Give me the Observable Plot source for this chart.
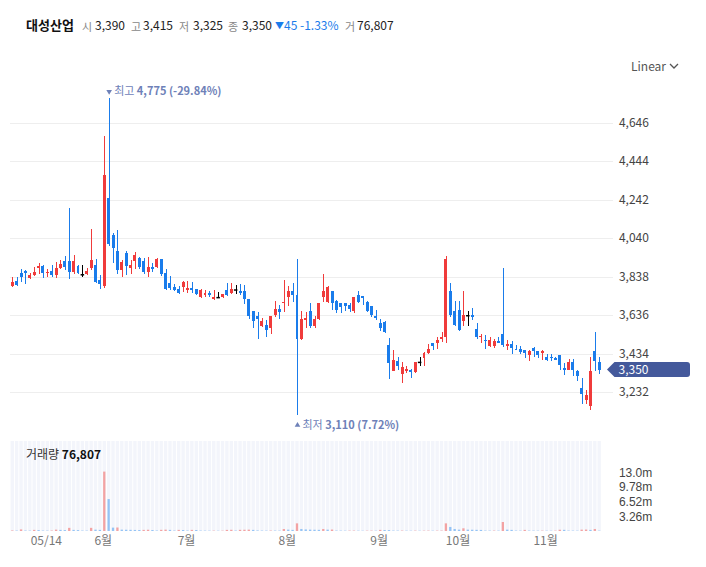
<!DOCTYPE html>
<html><head><meta charset="utf-8">
<script src="https://cdn.jsdelivr.net/npm/d3@7"></script>
<script src="https://cdn.jsdelivr.net/npm/@observablehq/plot@0.6"></script>
<style>
body{margin:0;background:#fff;font-family:"Noto Sans CJK KR","Noto Sans",sans-serif;}
#wrap{position:relative;width:706px;height:567px;overflow:hidden;background:#fff;}
.abs{position:absolute;white-space:nowrap;line-height:18px;}
svg{position:absolute;left:0;}
</style></head><body><div id="wrap"></div>
<script>
// ---- data (trading days, index 0..134) ----
const openP = [
3790,3815,3855,3865,3830,3845,3885,3895,3855,3865,
3845,3885,3920,3920,3860,3895,3850,3850,3885,3900,
3820,3790,4250,4055,3970,3870,3960,3885,3920,3935,
3920,3860,3890,3890,3930,3855,3805,3785,3775,3785,
3770,3780,3775,3730,3740,3750,3720,3730,3730,3765,
3750,3770,3760,3760,3720,3655,3630,3580,3585,3570,
3635,3670,3700,3730,3760,3740,3510,3610,3655,3580,
3615,3730,3705,3760,3710,3700,3700,3690,3655,3740,
3735,3705,3685,3630,3595,3600,3480,3340,3395,3325,
3340,3345,3335,3390,3410,3435,3490,3490,3510,3520,
3760,3655,3660,3605,3635,3635,3565,3520,3505,3475,
3475,3500,3535,3475,3485,3460,3460,3455,3425,3465,
3445,3435,3415,3415,3410,3425,3360,3350,3390,3340,
3255,3190,3160,3445,3390];
const highP = [
3835,3835,3880,3870,3855,3890,3910,3900,3880,3900,
3915,3925,3945,4200,3950,3900,3900,3885,4090,3930,
3845,4575,4775,4065,4080,3925,3970,3925,3965,3940,
3935,3940,3910,3935,3930,3880,3840,3800,3790,3815,
3815,3810,3775,3775,3765,3760,3765,3755,3745,3805,
3805,3795,3800,3795,3720,3655,3650,3620,3610,3630,
3710,3690,3820,3790,3805,3930,3655,3650,3700,3630,
3700,3850,3790,3760,3715,3700,3700,3700,3730,3760,
3735,3710,3685,3665,3615,3605,3515,3450,3415,3390,
3370,3355,3390,3415,3440,3485,3490,3520,3545,3945,
3805,3710,3710,3760,3655,3675,3595,3535,3530,3520,
3510,3520,3885,3505,3500,3480,3475,3455,3455,3470,
3445,3450,3430,3430,3415,3425,3385,3405,3405,3345,
3305,3245,3415,3545,3415];
const lowP = [
3785,3790,3810,3800,3825,3840,3850,3830,3835,3835,
3830,3880,3875,3825,3850,3850,3835,3845,3870,3805,
3775,3780,4000,3910,3850,3835,3845,3850,3880,3880,
3850,3835,3860,3885,3840,3765,3765,3760,3745,3755,
3750,3750,3740,3725,3730,3730,3715,3725,3725,3735,
3745,3745,3740,3695,3615,3570,3510,3575,3520,3535,
3625,3615,3650,3685,3705,3110,3505,3570,3570,3570,
3610,3705,3700,3665,3645,3645,3655,3650,3645,3700,
3690,3650,3625,3610,3550,3540,3300,3340,3345,3280,
3330,3305,3330,3370,3370,3430,3450,3460,3495,3490,
3625,3580,3550,3580,3580,3610,3510,3490,3460,3470,
3465,3490,3470,3455,3430,3450,3430,3410,3395,3415,
3410,3400,3395,3395,3400,3345,3320,3350,3315,3290,
3170,3170,3135,3340,3325];
const closeP = [
3810,3795,3835,3855,3845,3860,3895,3855,3860,3845,
3885,3905,3890,3860,3920,3855,3850,3865,3925,3810,
3800,4370,4010,3990,3870,3915,3895,3900,3950,3890,
3860,3890,3880,3930,3850,3775,3780,3770,3750,3810,
3780,3770,3745,3770,3750,3740,3730,3730,3745,3740,
3775,3770,3750,3720,3630,3605,3615,3605,3555,3630,
3670,3650,3705,3760,3740,3510,3615,3620,3580,3615,
3700,3760,3785,3700,3665,3680,3685,3670,3730,3705,
3725,3655,3635,3620,3570,3545,3385,3400,3370,3365,
3355,3335,3390,3390,3435,3460,3475,3505,3520,3930,
3635,3585,3555,3635,3635,3625,3520,3525,3500,3505,
3500,3490,3480,3485,3465,3455,3440,3435,3445,3445,
3425,3445,3400,3410,3400,3375,3350,3390,3350,3315,
3220,3215,3340,3395,3350];
const volume = [
120000,90000,350000,100000,80000,250000,200000,90000,80000,100000,
300000,250000,200000,700000,250000,200000,90000,80000,700000,300000,
250000,13200000,7100000,750000,780000,300000,280000,260000,240000,220000,
250000,280000,220000,100000,260000,300000,250000,100000,250000,220000,
100000,250000,220000,90000,80000,70000,80000,60000,70000,250000,
270000,100000,260000,280000,300000,250000,120000,90000,80000,100000,
90000,80000,440000,300000,250000,1700000,450000,350000,300000,280000,
260000,450000,300000,320000,90000,80000,70000,80000,90000,70000,
60000,70000,80000,70000,250000,220000,200000,90000,80000,90000,
70000,60000,80000,60000,70000,80000,70000,80000,90000,1700000,
900000,450000,300000,600000,300000,280000,260000,240000,90000,80000,
90000,80000,2000000,300000,250000,90000,80000,250000,90000,80000,
70000,80000,70000,60000,70000,280000,260000,90000,80000,70000,
300000,320000,250000,450000,76807];
const priceTicks = [3232,3434,3636,3838,4040,4242,4444,4646];
const volTicks = [3260000,6520000,9780000,13040000];
const volTickLabels = ["3.26m","6.52m","9.78m","13.0m"];
const monthTickIdx = [8,21,40,63,84,102,122];
const monthTickLabels = ["05/14","6월","7월","8월","9월","10월","11월"];
const header = {name:"대성산업", open:3390, high:3415, low:3325, close:3350, change:-45, pct:-1.33, vol:76807};

// ---- styles ----
const RED="#f03b3b", BLUE="#1a7ceb", VRED="#f3a3a3", VBLUE="#95c4f5", ANN="#6e81b8", TAG="#44599b";
const FONT='"Noto Sans CJK KR","Noto Sans",sans-serif';
const NUMFONT='"Liberation Sans","Noto Sans",sans-serif';
const W=706, ML=10.1, MR=104.6, N=openP.length;
const data = d3.range(N).map(i=>({i,o:openP[i],h:highP[i],l:lowP[i],c:closeP[i],v:volume[i]}));
const col = d => d.c>d.o?RED:(d.c<d.o?BLUE:"#000");
const fmt = d3.format(",");
const last = data[N-1];
const hiV = d3.max(highP), loV = d3.min(lowP);
const hi = data[highP.indexOf(hiV)], lo = data[lowP.indexOf(loV)];
const pctFmt = v => v.toFixed(2);
const hiTxt = `최고 ${fmt(hiV)} (${pctFmt((last.c/hiV-1)*100)}%)`;
const loTxt = `최저 ${fmt(loV)} (${pctFmt((last.c/loV-1)*100)}%)`;

const wrap = document.getElementById("wrap");

const price = Plot.plot({
  width:W, height:440, marginLeft:ML, marginRight:MR, marginTop:93.33, marginBottom:22.86,
  style:{background:"transparent", fontFamily:FONT, fontSize:"12px", overflow:"visible"},
  x:{domain:[-0.5,N-0.5], axis:null},
  y:{domain:[3100,4800], axis:null},
  marks:[
    Plot.ruleY(priceTicks,{stroke:"#eeeeee", insetRight:-12, shapeRendering:"crispEdges"}),
    Plot.axisY(priceTicks,{anchor:"right", label:null, tickSize:0, tickPadding:17, tickFormat:fmt, fill:"#444", fontSize:12}),
    Plot.ruleX(data,{x:"i", y1:"l", y2:"h", stroke:col, strokeWidth:1, shapeRendering:"crispEdges"}),
    Plot.rect(data.filter(d=>d.o!==d.c),{x1:d=>d.i-0.34, x2:d=>d.i+0.34, y1:"o", y2:"c", fill:col, shapeRendering:"crispEdges"}),
    Plot.ruleY(data.filter(d=>d.o===d.c),{x1:d=>d.i-0.4, x2:d=>d.i+0.4, y:"c", stroke:"#000", strokeWidth:1.5}),
    Plot.dot([hi],{x:"i", y:"h", dy:-7, symbol:"triangle", r:2.1, fill:ANN, rotate:180}),
    Plot.text([hi],{x:"i", y:"h", dy:-7, dx:5, textAnchor:"start", text:()=>hiTxt, fill:ANN, fontSize:11}),
    Plot.dot([lo],{x:"i", y:"l", dy:9.5, symbol:"triangle", r:2.1, fill:ANN}),
    Plot.text([lo],{x:"i", y:"l", dy:9.5, dx:5, textAnchor:"start", text:()=>loTxt, fill:ANN, fontSize:11})
  ]
});
price.style.top="0px";
// bold numbers in annotations
d3.select(price).selectAll("text").filter(function(){return this.textContent.startsWith("최");}).each(function(){
  const t=this.textContent, k=t.indexOf(" ");
  const el=d3.select(this); el.text("");
  el.append("tspan").attr("font-weight","normal").text(t.slice(0,k+1));
  el.append("tspan").attr("font-weight","bold").text(t.slice(k+1));
});
// current price tag
{
  const y = price.scale("y").apply(last.c);
  const g = d3.select(price).append("g");
  g.append("path").attr("fill",TAG)
   .attr("d",`M607,${y} L614.5,${y-7.5} H687 Q690,${y-7.5} 690,${y-4.5} V${y+4.5} Q690,${y+7.5} 687,${y+7.5} H614.5 Z`);
  g.append("text").attr("x",618.5).attr("y",y).attr("dy","0.35em").attr("fill","#fff")
   .attr("text-anchor","start").attr("font-size",12).attr("font-family",FONT).text(fmt(last.c));
}
wrap.appendChild(price);

const vol = Plot.plot({
  width:W, height:137, marginLeft:ML, marginRight:MR, marginTop:11, marginBottom:36,
  style:{background:"transparent", fontFamily:FONT, fontSize:"12px", overflow:"visible"},
  x:{domain:[-0.5,N-0.5], axis:null},
  y:{domain:[0,20000000], axis:null},
  marks:[
    Plot.rect(data,{x1:d=>d.i-0.5, x2:d=>d.i+0.5, fill:"#f3f5fb", insetLeft:0.5, insetRight:0.5}),
    Plot.rectY(data,{x1:d=>d.i-0.26, x2:d=>d.i+0.26, y:"v", fill:d=>(d.i===0||d.v>volume[d.i-1])?VRED:VBLUE}),
    Plot.axisY(volTicks,{anchor:"right", label:null, tickSize:0, tickPadding:17, tickFormat:d=>volTickLabels[volTicks.indexOf(d)], fill:"#444", fontSize:12, fontFamily:NUMFONT}),
    Plot.axisX(monthTickIdx,{anchor:"bottom", label:null, tickSize:0, tickPadding:5, dx:-1.5, tickFormat:d=>monthTickLabels[monthTickIdx.indexOf(d)], fill:"#777", fontSize:12})
  ]
});
vol.style.top="430px";
wrap.appendChild(vol);

// ---- HTML texts ----
function span(x,top,txt,css){const s=document.createElement("span");s.className="abs";s.style.left=x+"px";s.style.top=top+"px";s.style.cssText+=css;s.textContent=txt;wrap.appendChild(s);return s;}
const HT=16, F12="font-size:12px;", HL="font-size:11px;color:#888;";
span(26,HT,header.name,"font-size:13px;font-weight:bold;color:#111;");
span(82,HT+0.5,"시",HL);
span(95,HT,fmt(header.open),F12+"color:#222;");
span(131,HT+0.5,"고",HL);
span(143,HT,fmt(header.high),F12+"color:#222;");
span(179,HT+0.5,"저",HL);
span(193,HT,fmt(header.low),F12+"color:#222;");
span(228,HT+0.5,"종",HL);
span(242,HT,fmt(header.close),F12+"color:#222;");
span(275,HT+0.5,"▼","font-size:9px;color:#1a7ceb;");
span(284,HT,`${Math.abs(header.change)}`,F12+"color:#1a7ceb;");
span(300,HT,`${header.pct.toFixed(2)}%`,F12+"color:#1a7ceb;");
span(345,HT+0.5,"거",HL);
span(357,HT,fmt(header.vol),F12+"color:#222;");
span(631,57,"Linear","font-size:12px;color:#555;");
{
  const s=document.createElementNS("http://www.w3.org/2000/svg","svg");
  s.setAttribute("width","10");s.setAttribute("height","7");s.style.left="669px";s.style.top="63px";
  s.innerHTML='<polyline points="1,1 5,5 9,1" fill="none" stroke="#555" stroke-width="1.3"/>';
  wrap.appendChild(s);
}
const vl = span(26,445,"거래량 ","font-size:12px;color:#333;");
const vb = document.createElement("b"); vb.textContent=fmt(last.v); vb.style.color="#111"; vl.appendChild(vb);
</script></body></html>
